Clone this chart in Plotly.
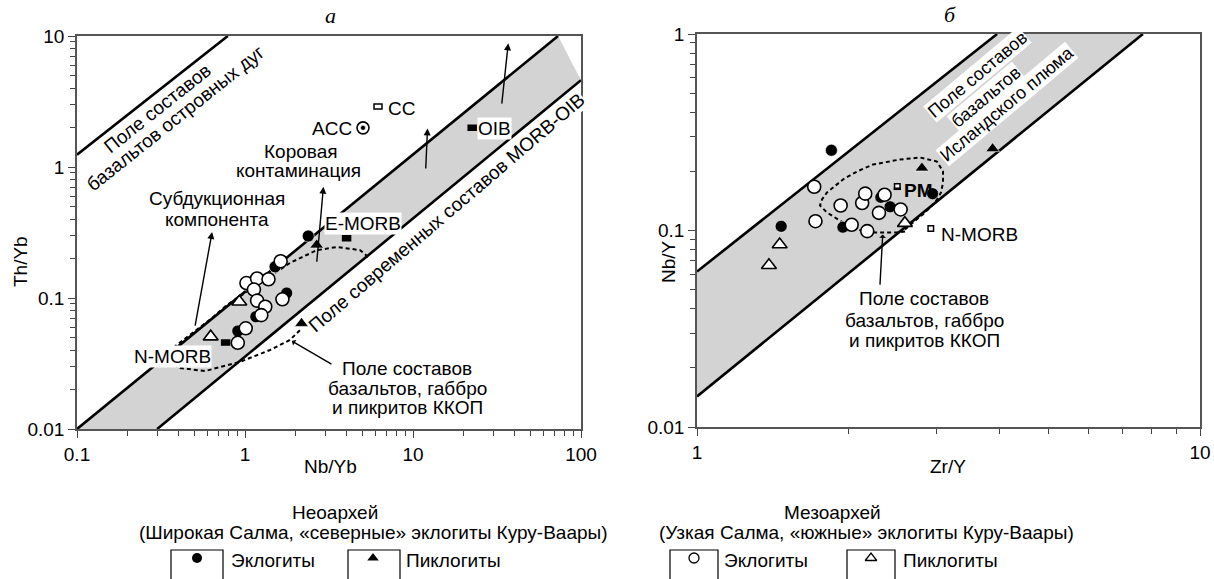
import numpy as np
import plotly.graph_objects as go

W, H = 1214, 579
FONT = "Liberation Sans, Arial, Helvetica, sans-serif"
SERIF = "Liberation Serif, Times New Roman, serif"
BAND = "#d3d3d3"

# ---------------- panel а : Th/Yb vs Nb/Yb ----------------
# Neoarchean eclogites (filled circles)
a_neo_ecl_nb = [2.38, 1.51, 1.77, 1.16, 0.906, 1.05]
a_neo_ecl_th = [0.297, 0.173, 0.109, 0.072, 0.056, 0.125]
# Neoarchean piclogites (filled triangles)
a_neo_pic_nb = [2.67, 2.17]
a_neo_pic_th = [0.254, 0.064]
# Mesoarchean eclogites (open circles)
a_meso_ecl_nb = [1.63, 1.02, 1.18, 1.38, 1.13, 1.18, 1.32, 1.67, 1.01, 0.906, 1.25]
a_meso_ecl_th = [0.191, 0.130, 0.141, 0.139, 0.116, 0.0955, 0.0857, 0.0977, 0.0587, 0.0455, 0.074]
# Mesoarchean piclogites (open triangles)
a_meso_pic_nb = [0.925, 0.625]
a_meso_pic_th = [0.0935, 0.0507]
# reference compositions
a_ref_names = ["N-MORB", "E-MORB", "OIB"]
a_ref_nb = [0.726, 3.81, 21.3]
a_ref_th = [0.0437, 0.273, 1.91]
a_cc = (5.86, 2.77)
a_acc = (5.04, 1.99)

# array boundaries
a_arc_nb = [0.1, 0.79]
a_arc_th = [1.24, 10]
a_upper_nb = [0.1, 73]
a_upper_th = [0.01, 10]
a_lower_nb = [0.3, 100]
a_lower_th = [0.01, 4.6]

# KKOP field outline
a_field_nb = [5.40, 4.84, 3.53, 2.68, 1.85, 1.41, 1.07, 0.781, 0.637, 0.471, 0.358,
              0.339, 0.410, 0.578, 0.933, 1.41, 1.85, 2.13]
a_field_th = [0.206, 0.232, 0.245, 0.232, 0.185, 0.147, 0.115, 0.0885, 0.0704, 0.0522,
              0.0401, 0.0336, 0.0292, 0.0277, 0.0325, 0.0401, 0.0478, 0.057]

# ---------------- panel б : Nb/Y vs Zr/Y ----------------
b_neo_ecl_zr = [1.85, 1.47, 1.95, 2.32, 2.42, 2.94]
b_neo_ecl_nb = [0.256, 0.105, 0.104, 0.1476, 0.132, 0.154]
b_neo_pic_zr = [2.80, 3.87]
b_neo_pic_nb = [0.208, 0.261]
b_meso_ecl_zr = [1.71, 1.72, 1.93, 2.03, 2.13, 2.16, 2.18, 2.36, 2.30, 2.54]
b_meso_ecl_nb = [0.167, 0.1115, 0.134, 0.107, 0.138, 0.154, 0.0993, 0.152, 0.123, 0.128]
b_meso_pic_zr = [1.46, 1.39, 2.59]
b_meso_pic_nb = [0.0849, 0.0666, 0.109]
b_pm = (2.47, 0.162)
b_nmorb = (2.88, 0.099)

b_upper_zr = [1, 3.95]
b_upper_nb = [0.0618, 1]
b_lower_zr = [1, 7.7]
b_lower_nb = [0.0143, 1]

# KKOP field outline
b_field_zr = [2.592, 2.498, 2.238, 2.080, 1.951, 1.813, 1.756, 1.772, 1.813, 1.951, 2.080,
              2.238, 2.533, 2.775, 3.000, 3.084, 3.084, 3.056, 2.973, 2.840, 2.688, 2.592]
b_field_nb = [0.0988, 0.0977, 0.0977, 0.1012, 0.1098, 0.1235, 0.1340, 0.1438, 0.1561, 0.1818,
              0.1996, 0.2167, 0.2298, 0.2352, 0.2244, 0.1996, 0.1755, 0.1561, 0.1389, 0.1235,
              0.1098, 0.1012]

fig = go.Figure()


def band(xa, ya, xb, yb, xref, yref):
    xs = [xa[0], xa[1], xb[1], xb[0], xa[0]]
    ys = [ya[0], ya[1], yb[1], yb[0], ya[0]]
    fig.add_trace(go.Scatter(x=xs, y=ys, mode="lines", fill="toself", fillcolor=BAND,
                             line=dict(width=0), xaxis=xref, yaxis=yref, hoverinfo="skip"))


def seg(xs, ys, xref, yref, width=2.6, dash=None):
    fig.add_trace(go.Scatter(x=xs, y=ys, mode="lines",
                             line=dict(color="black", width=width, dash=dash),
                             xaxis=xref, yaxis=yref, hoverinfo="skip"))


def pts(xs, ys, xref, yref, symbol, filled, size=12):
    fig.add_trace(go.Scatter(
        x=xs, y=ys, mode="markers", xaxis=xref, yaxis=yref, hoverinfo="skip",
        marker=dict(symbol=symbol, size=size, color="black" if filled else "white",
                    line=dict(color="black" if not filled else "white",
                              width=1.6 if not filled else 0.6))))


# panel а
band(a_upper_nb, a_upper_th, a_lower_nb, a_lower_th, "x", "y")
seg(a_upper_nb, a_upper_th, "x", "y")
seg(a_lower_nb, a_lower_th, "x", "y")
seg(a_arc_nb, a_arc_th, "x", "y")
seg(a_field_nb, a_field_th, "x", "y", width=2, dash="4px,3px")
pts(a_neo_ecl_nb, a_neo_ecl_th, "x", "y", "circle", True)
pts(a_meso_ecl_nb, a_meso_ecl_th, "x", "y", "circle", False, 13)
pts(a_neo_pic_nb, a_neo_pic_th, "x", "y", "triangle-up", True, 12)
pts(a_meso_pic_nb, a_meso_pic_th, "x", "y", "triangle-up", False, 13)
pts([a_acc[0]], [a_acc[1]], "x", "y", "circle", False, 12)
pts([a_acc[0]], [a_acc[1]], "x", "y", "circle", True, 5)

# panel б
band(b_upper_zr, b_upper_nb, b_lower_zr, b_lower_nb, "x2", "y2")
seg(b_upper_zr, b_upper_nb, "x2", "y2")
seg(b_lower_zr, b_lower_nb, "x2", "y2")
seg(b_field_zr, b_field_nb, "x2", "y2", width=2, dash="4px,3px")
pts(b_neo_ecl_zr, b_neo_ecl_nb, "x2", "y2", "circle", True)
pts(b_meso_ecl_zr, b_meso_ecl_nb, "x2", "y2", "circle", False, 13)
pts(b_neo_pic_zr, b_neo_pic_nb, "x2", "y2", "triangle-up", True, 12)
pts(b_meso_pic_zr, b_meso_pic_nb, "x2", "y2", "triangle-up", False, 13)

# reference composition boxes (pixel-sized rectangles anchored at data values)
shapes = []


def rect(xv, yv, xref, yref, w, h, fill, lower_fill=None):
    shapes.append(dict(type="rect", xref=xref, yref=yref, xsizemode="pixel", ysizemode="pixel",
                       xanchor=xv, yanchor=yv, x0=-w / 2, x1=w / 2, y0=-h / 2, y1=h / 2,
                       fillcolor=fill, line=dict(color="black", width=1.5)))
    if lower_fill:
        shapes.append(dict(type="rect", xref=xref, yref=yref, xsizemode="pixel", ysizemode="pixel",
                           xanchor=xv, yanchor=yv, x0=-w / 2, x1=w / 2, y0=-h / 2, y1=h * 0.1,
                           fillcolor=lower_fill, line=dict(color="black", width=1.5)))


for xv, yv in zip(a_ref_nb, a_ref_th):
    rect(xv, yv, "x", "y", 16, 10, "black")
rect(a_cc[0], a_cc[1], "x", "y", 16, 10, "white")
rect(b_pm[0], b_pm[1], "x2", "y2", 11, 11, "white", "black")
rect(b_nmorb[0], b_nmorb[1], "x2", "y2", 11, 11, "white")

# legend key frames (open at the bottom edge of the page)
for x0, x1 in [(171, 223), (348, 400), (670, 718), (847, 895)]:
    shapes.append(dict(type="rect", xref="paper", yref="paper", x0=x0 / W, x1=x1 / W,
                       y0=-0.1, y1=1 - 550 / H, line=dict(color="black", width=1.2),
                       fillcolor="rgba(0,0,0,0)"))

# legend key symbols on an invisible page-sized axis
for xs, sym, filled, sz in [(197, "circle", True, 10), (373, "triangle-up", True, 10),
                            (694, "circle", False, 10), (871, "triangle-up", False, 10)]:
    fig.add_trace(go.Scatter(x=[xs], y=[558], mode="markers", xaxis="x3", yaxis="y3",
                             hoverinfo="skip",
                             marker=dict(symbol=sym, size=sz, color="black" if filled else "white",
                                         line=dict(color="black", width=0 if filled else 1.3))))

ann = []


def txt(s, px, py, size=19, angle=0, bg=None, xanchor="center", family=FONT, bold=False):
    if bold:
        s = "<b>" + s + "</b>"
    d = dict(text=s, x=px / W, y=1 - py / H, xref="paper", yref="paper", showarrow=False,
             xanchor=xanchor, yanchor="middle", textangle=angle,
             font=dict(size=size, family=family, color="black"), borderpad=0)
    if bg:
        d["bgcolor"] = bg
    ann.append(d)


def arrow(x0, y0, x1, y1, xref, yref, head=2, size=1.0):
    ann.append(dict(x=np.log10(x1), y=np.log10(y1), ax=np.log10(x0), ay=np.log10(y0),
                    xref=xref, yref=yref, axref=xref, ayref=yref, text="", showarrow=True,
                    arrowhead=head, arrowsize=size, arrowwidth=1.4, arrowcolor="black", standoff=0))


# panel а arrows
arrow(0.503, 0.060, 0.637, 0.319, "x", "y")
arrow(2.67, 0.184, 2.93, 0.708, "x", "y")
arrow(11.9, 0.948, 12.2, 1.97, "x", "y")
arrow(33.7, 2.97, 36.9, 8.79, "x", "y")
arrow(3.34, 0.0308, 1.90, 0.047, "x", "y", head=1, size=0.8)
# panel б arrow
arrow(2.31, 0.0521, 2.34, 0.0954, "x2", "y2", head=1, size=0.8)

# panel а text
txt("<i>а</i>", 330, 16, size=22, family=SERIF)
txt("Поле составов", 157, 108, angle=-38.5)
txt("базальтов островных дуг", 175, 118, angle=-38.5)
txt("Поле современных составов MORB-OIB", 447, 213, angle=-40.5, bg="white")
txt("Коровая", 301, 151)
txt("контаминация", 298, 170)
txt("Субдукционная", 217, 199)
txt("компонента", 217, 219)
txt("E-MORB", 363, 223, bg="white")
txt("N-MORB", 172, 356, bg="white")
txt("OIB", 494, 128, bg="white")
txt("CC", 401, 108)
txt("ACC", 332, 128)
txt("Поле составов", 407, 368)
txt("базальтов, габбро", 407, 388)
txt("и пикритов ККОП", 407, 408)
txt("Th/Yb", 20, 262, angle=-90)
txt("Nb/Yb", 330, 466)

# panel б text
txt("<i>б</i>", 950, 14, size=22, family=SERIF)
txt("Поле составов", 977, 75, size=18, angle=-40, bg="white")
txt("базальтов", 986, 97, size=18, angle=-40, bg="white")
txt("Исландского плюма", 1007, 104, size=18, angle=-40, bg="white")
txt("PM", 903, 190, xanchor="left", bold=True)
txt("N-MORB", 940, 235, xanchor="left")
txt("Поле составов", 924, 298)
txt("базальтов, габбро", 924, 320)
txt("и пикритов ККОП", 924, 340)
txt("Nb/Y", 668, 262, angle=-90)
txt("Zr/Y", 948, 466)

# legends
txt("Неоархей", 335, 512)
txt("(Широкая Салма, «северные» эклогиты Куру-Ваары)", 373, 532)
txt("Эклогиты", 230, 560, xanchor="left")
txt("Пиклогиты", 405, 560, xanchor="left")
txt("Мезоархей", 832, 512)
txt("(Узкая Салма, «южные» эклогиты Куру-Ваары)", 866, 532)
txt("Эклогиты", 723, 560, xanchor="left")
txt("Пиклогиты", 902, 560, xanchor="left")


def minor_vals(lo, hi):
    out = []
    for e in range(lo, hi):
        out += [m * 10.0 ** e for m in range(2, 10)]
    return out


def logaxis(domain, rng, major, labels, anchor):
    return dict(domain=domain, type="log", range=rng, anchor=anchor, automargin=False,
                showline=True, linecolor="#555555", linewidth=1.5, mirror=True,
                showgrid=False, zeroline=False, ticks="outside", ticklen=7, tickwidth=1.4,
                tickcolor="#444444", tickmode="array", tickvals=major, ticktext=labels,
                tickfont=dict(size=19, family=FONT, color="black"),
                minor=dict(tickmode="array", tickvals=minor_vals(rng[0], rng[1]),
                           ticks="outside", ticklen=5, tickwidth=1.2, tickcolor="#444444",
                           showgrid=False))


layout = dict(
    template="none",
    width=W, height=H, margin=dict(l=0, r=0, t=0, b=0, pad=0, autoexpand=False),
    paper_bgcolor="white", plot_bgcolor="rgba(0,0,0,0)", showlegend=False,
    xaxis=logaxis([77 / W, 581 / W], [-1, 2], [0.1, 1, 10, 100], ["0.1", "1", "10", "100"], "y"),
    yaxis=logaxis([1 - 429 / H, 1 - 36 / H], [-2, 1], [0.01, 0.1, 1, 10], ["0.01", "0.1", "1", "10"], "x"),
    xaxis2=logaxis([697 / W, 1200 / W], [0, 1], [1, 10], ["1", "10"], "y2"),
    yaxis2=logaxis([1 - 427 / H, 1 - 34 / H], [-2, 0], [0.01, 0.1, 1], ["0.01", "0.1", "1"], "x2"),
    xaxis3=dict(domain=[0, 1], range=[0, W], anchor="y3", visible=False, fixedrange=True,
                automargin=False),
    yaxis3=dict(domain=[0, 1], range=[H, 0], anchor="x3", visible=False, fixedrange=True,
                automargin=False),
    shapes=shapes, annotations=ann,
)
fig.update_layout(**layout)
fig.write_html("out.html")
